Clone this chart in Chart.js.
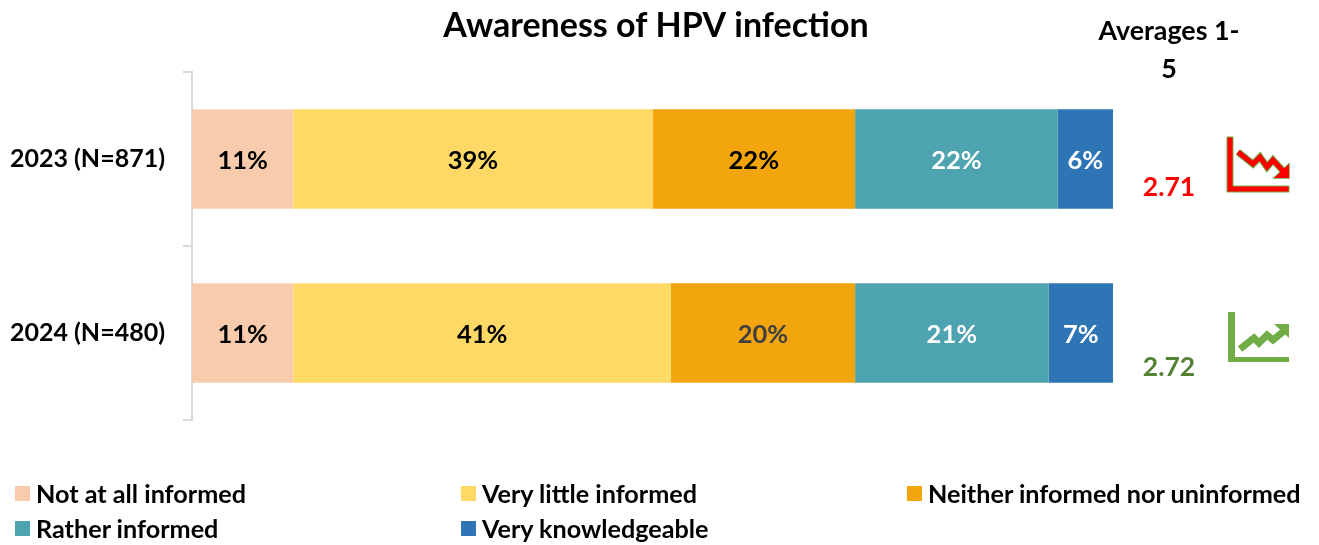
<!DOCTYPE html>
<html>
<head>
<meta charset="utf-8">
<script src="https://cdn.jsdelivr.net/npm/chart.js@4"></script>
<style>
html,body{margin:0;padding:0;background:#fff;width:1319px;height:545px;overflow:hidden}
#wrap{position:relative;width:1319px;height:545px}
#legend{position:absolute;left:0;top:0;font:bold 25.2px Lato,sans-serif;color:#000}
.li{position:absolute;white-space:nowrap;line-height:30px;height:30px}
.sw{position:absolute;left:0;top:8px;width:15px;height:15px}
.tx{position:absolute;left:21px;top:0}
</style>
</head>
<body>
<div id="wrap"><canvas id="c" width="1319" height="545"></canvas><div id="legend"></div></div>
<script>
const categories = ['2023 (N=871)', '2024 (N=480)'];
const seriesNames = ['Not at all informed', 'Very little informed', 'Neither informed nor uninformed', 'Rather informed', 'Very knowledgeable'];
const notAtAll = [11, 11];
const veryLittle = [39, 41];
const neither = [22, 20];
const rather = [22, 21];
const veryKnow = [6, 7];
const seriesColors = ['#F8CBAD', '#FFD966', '#F2A50C', '#4DA3B0', '#2E75B6'];
const labelColors = [['#000', '#000'], ['#000', '#000'], ['#000', '#404040'], ['#fff', '#fff'], ['#fff', '#fff']];
const averages = ['2.71', '2.72'];
const averageColors = ['#FF0000', '#548235'];
const averageOffsets = [28, 34];
const averagesHeader = ['Averages 1-', '5'];
const chartTitle = 'Awareness of HPV infection';
const FONT = 'Lato, sans-serif';

const allSeries = [notAtAll, veryLittle, neither, rather, veryKnow];

function poly(ctx, pts, fill, stroke, lw) {
  ctx.beginPath();
  pts.forEach((p, i) => i ? ctx.lineTo(p[0], p[1]) : ctx.moveTo(p[0], p[1]));
  ctx.closePath();
  if (fill) { ctx.fillStyle = fill; ctx.fill(); }
  if (stroke) { ctx.strokeStyle = stroke; ctx.lineWidth = lw; ctx.stroke(); }
}
function zigzag(ctx, pts, color, w) {
  ctx.beginPath();
  pts.forEach((p, i) => i ? ctx.lineTo(p[0], p[1]) : ctx.moveTo(p[0], p[1]));
  ctx.strokeStyle = color; ctx.lineWidth = w; ctx.lineJoin = 'miter'; ctx.stroke();
}
function downIcon(ctx) {
  const G = '#70AD47', R = '#FF0000';
  const axis = [[1227,137],[1233,137],[1233,186],[1289,186],[1289,192],[1227,192]];
  const line = [[1238,152],[1253,164],[1260,157],[1267,167],[1273,160],[1284,172]];
  const head = [[1289,164],[1289,178],[1274,178]];
  poly(ctx, axis, R, G, 1);
  zigzag(ctx, line, G, 7); poly(ctx, head, G, G, 1.5);
  zigzag(ctx, line, R, 5); poly(ctx, head, R);
}
function upIcon(ctx) {
  const G = '#70AD47';
  poly(ctx, [[1228,312],[1235,312],[1235,357],[1289,357],[1289,362],[1228,362]], G);
  zigzag(ctx, [[1240,349],[1254,338],[1259,343],[1267,335],[1273,340],[1284,331]], G, 7);
  poly(ctx, [[1274,324],[1289,324],[1289,338]], G);
}

const overlay = {
  id: 'overlay',
  beforeDraw(chart) {
    chart.titleBlock.left = 197;
    chart.titleBlock.right = 1115;
  },
  afterDatasetsDraw(chart) {
    const ctx = chart.ctx;
    ctx.save();
    ctx.textAlign = 'center';
    ctx.textBaseline = 'middle';
    ctx.font = 'bold 25.5px ' + FONT;
    chart.data.datasets.forEach((ds, i) => {
      chart.getDatasetMeta(i).data.forEach((bar, j) => {
        ctx.fillStyle = labelColors[i][j];
        ctx.fillText(ds.data[j] + '%', (bar.base + bar.x) / 2, bar.y + 2);
      });
    });
    const yS = chart.scales.y;
    ctx.font = 'bold 26.5px ' + FONT;
    averages.forEach((a, i) => {
      ctx.fillStyle = averageColors[i];
      ctx.fillText(a, 1169, yS.getPixelForValue(i) + averageOffsets[i]);
    });
    ctx.fillStyle = '#000';
    ctx.font = 'bold 26.8px ' + FONT;
    ctx.fillText(averagesHeader[0], 1169, 31);
    ctx.fillText(averagesHeader[1], 1169, 69);
    downIcon(ctx);
    upIcon(ctx);
    ctx.restore();
  }
};

new Chart(document.getElementById('c'), {
  type: 'bar',
  data: {
    labels: categories,
    datasets: seriesNames.map((n, i) => ({
      label: n, data: allSeries[i], backgroundColor: seriesColors[i],
      barPercentage: 0.573, categoryPercentage: 1, borderWidth: 0
    }))
  },
  options: {
    indexAxis: 'y',
    responsive: false,
    animation: false,
    layout: { padding: { left: 0, right: 206, top: 0, bottom: 125 } },
    plugins: {
      legend: { display: false },
      tooltip: { enabled: false },
      title: {
        display: true, text: chartTitle, color: '#000',
        font: { family: FONT, size: 34, weight: 'bold' },
        padding: { top: 5.5, bottom: 25.7 }
      }
    },
    scales: {
      x: { display: false, stacked: true, min: 0, max: 100 },
      y: {
        stacked: true,
        afterFit(s) { s.width = 192; },
        grid: { display: true, drawOnChartArea: false, drawTicks: true, tickLength: 9, color: '#D9D9D9', lineWidth: 2, offset: true },
        border: { display: true, color: '#D9D9D9', width: 2 },
        ticks: { color: '#000', padding: 18, font: { family: FONT, size: 25, weight: 'bold' } }
      }
    }
  },
  plugins: [overlay]
});

const legendPos = [[15,478],[461,478],[907,478],[15,513],[461,513]];
const lg = document.getElementById('legend');
seriesNames.forEach((n, i) => {
  const d = document.createElement('div');
  d.className = 'li';
  d.style.left = legendPos[i][0] + 'px';
  d.style.top = legendPos[i][1] + 'px';
  d.innerHTML = '<span class="sw" style="background:' + seriesColors[i] + '"></span><span class="tx"></span>';
  d.querySelector('.tx').textContent = n;
  lg.appendChild(d);
});
</script>
</body>
</html>
